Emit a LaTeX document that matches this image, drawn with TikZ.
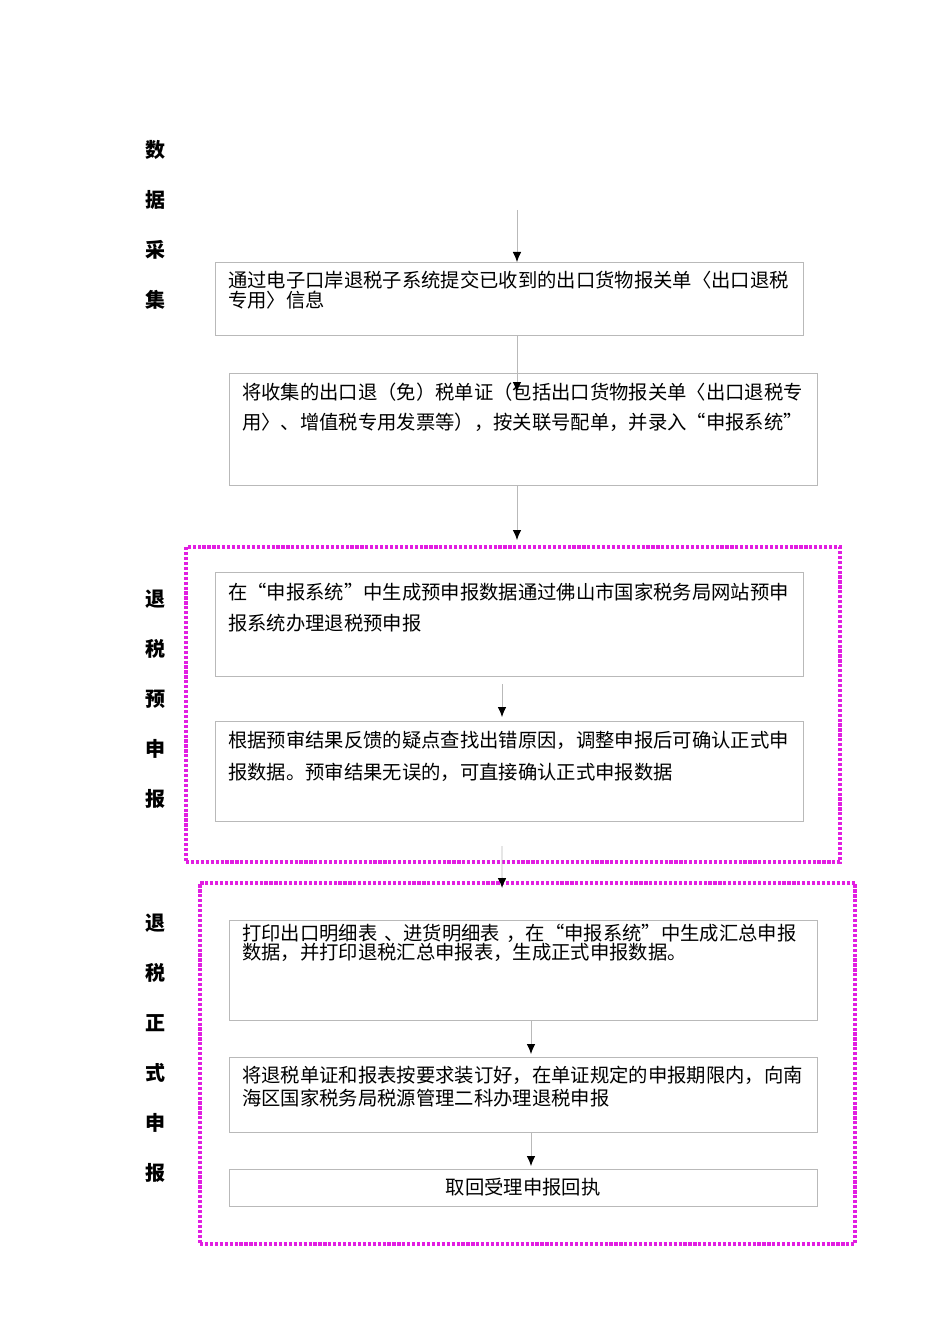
\documentclass[tikz,border=0pt]{standalone}
\usepackage{fontspec}
\newfontfamily\cjk{Noto Sans CJK SC}
\usetikzlibrary{arrows.meta, positioning}
\definecolor{boxgray}{RGB}{185,185,185}
\definecolor{dotpink}{RGB}{225,30,225}

\begin{document}
\begin{tikzpicture}[x=0.75pt, y=-0.75pt,
      stepbox/.style={draw=boxgray, line width=0.7pt, anchor=north west, minimum width=441pt, inner sep=0pt, outer sep=0pt, font=\cjk\fontsize{14.5pt}{17pt}\selectfont},
      steptext/.style={anchor=base west, inner sep=0pt, text width=445pt, align=left, font=\cjk\fontsize{14.5pt}{#1}\selectfont},
      group/.style={draw=dotpink, line width=2.6pt, dash pattern=on 2.4pt off 1.3pt, anchor=north west, inner sep=0pt, outer sep=0pt},
      side/.style={anchor=base, inner sep=0pt, text width=20pt, align=center, font=\cjk\bfseries\fontsize{15pt}{37.5pt}\selectfont},
      flow/.style={draw=boxgray, line width=0.7pt, -{Latex[length=7.5pt, width=6.5pt, color=black]}}
    ]
      \useasboundingbox (0,0) rectangle (950,1344);

      % Dotted groups
      \node[group, minimum width=490.5pt, minimum height=236.25pt] (pre) at (186,547) {};
      \node[group, minimum width=491.25pt, minimum height=270.75pt] (formal) at (200,883) {};

      % Side labels
      \node[side] (lab1) at (155,158) {数\\据\\采\\集};
      \node[side] (lab2) at (155,606) {退\\税\\预\\申\\报};
      \node[side] (lab3) at (155,930) {退\\税\\正\\式\\申\\报};

      % Data collection
      \coordinate (start) at (517,210);
      \node[stepbox, minimum height=54.75pt] (box1) at (215,262) {};
      \node[steptext=15pt] (box1t) at ([shift={(13,25)}]box1.north west) {通过电子口岸退税子系统提交已收到的出口货物报关单〈出口退税\\专用〉信息};
      \node[stepbox, minimum height=84pt] (box2) at (229,373) {};
      \node[steptext=23pt] (box2t) at ([shift={(13,26)}]box2.north west) {将收集的出口退（免）税单证（包括出口货物报关单〈出口退税专\\用〉、增值税专用发票等），按关联号配单，并录入“申报系统”};

      % Pre-declaration
      \node[stepbox, minimum height=78pt] (box3) at (215,572) {};
      \node[steptext=23.25pt] (box3t) at ([shift={(13,27)}]box3.north west) {在“申报系统”中生成预申报数据通过佛山市国家税务局网站预申\\报系统办理退税预申报};
      \node[stepbox, minimum height=75pt] (box4) at (215,721) {};
      \node[steptext=24pt] (box4t) at ([shift={(13,26)}]box4.north west) {根据预审结果反馈的疑点查找出错原因，调整申报后可确认正式申\\报数据。预审结果无误的，可直接确认正式申报数据};

      % Formal declaration
      \node[stepbox, minimum height=75pt] (box5) at (229,920) {};
      \node[steptext=14.25pt] (box5t) at ([shift={(13,20)}]box5.north west) {打印出口明细表 、进货明细表 ，在“申报系统”中生成汇总申报\\数据，并打印退税汇总申报表，生成正式申报数据。};
      \node[stepbox, minimum height=56.25pt] (box6) at (229,1057) {};
      \node[steptext=17.25pt] (box6t) at ([shift={(13,25)}]box6.north west) {将退税单证和报表按要求装订好，在单证规定的申报期限内，向南\\海区国家税务局税源管理二科办理退税申报};
      \node[stepbox, minimum height=27.75pt] (box7) at (229,1169) {取回受理申报回执};

      % Arrows
      \draw[flow] (start) -- ([xshift=6pt]box1.north);
      \draw[flow] ([xshift=6pt]box1.south) -- ([xshift=-4.5pt, yshift=-14.25pt]box2.north);
      \draw[flow] ([xshift=-4.5pt]box2.south) -- ([xshift=3pt, yshift=5.25pt]pre.north);
      \draw[flow] ([xshift=-5.25pt, yshift=-6pt]box3.south) -- ([xshift=-5.25pt, yshift=3pt]box4.north);
      \draw[flow] ([xshift=-5.25pt, yshift=-18.75pt]box4.south) -- ([xshift=-19.1pt, yshift=-3.75pt]formal.north);
      \draw[flow] ([xshift=6pt]box5.south) -- ([xshift=6pt, yshift=2.25pt]box6.north);
      \draw[flow] ([xshift=6pt]box6.south) -- ([xshift=6pt, yshift=2.25pt]box7.north);

\end{tikzpicture}
\end{document}
